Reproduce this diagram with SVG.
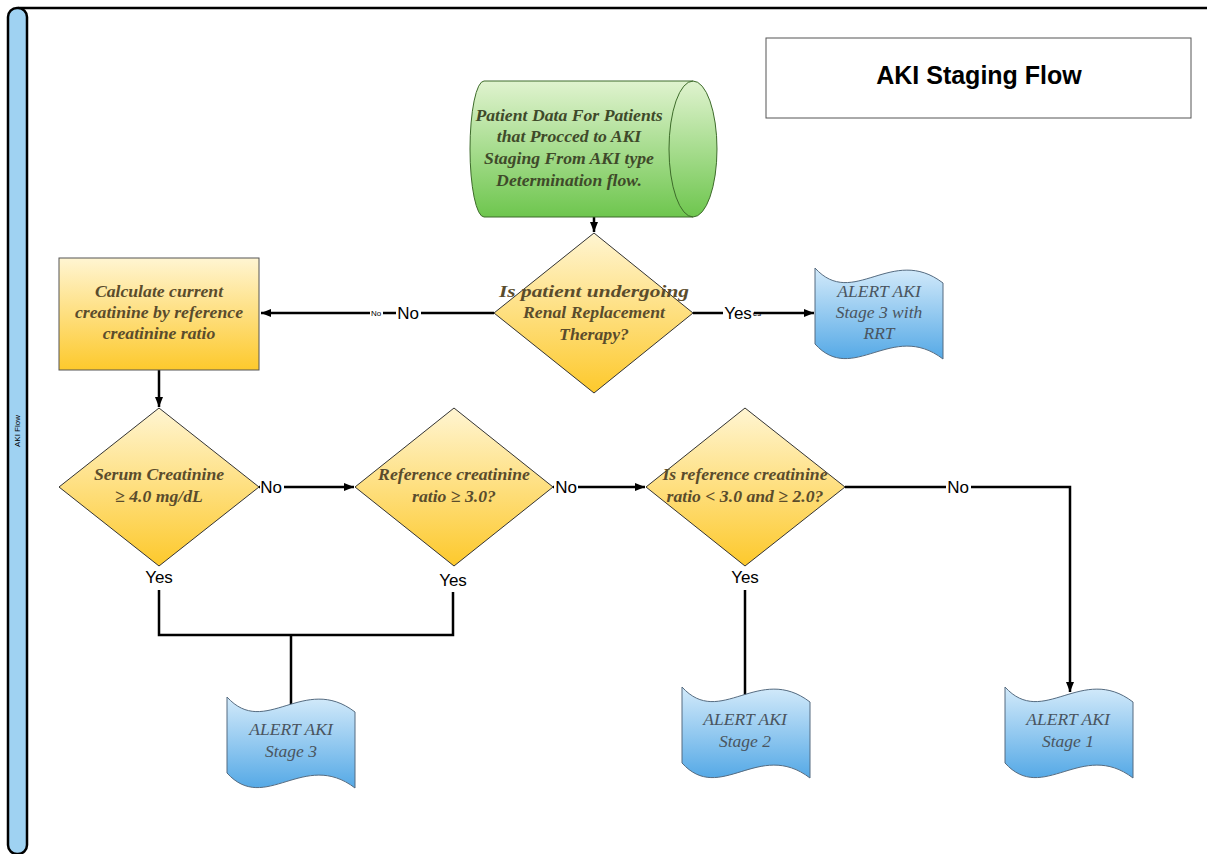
<svg xmlns="http://www.w3.org/2000/svg" width="1207" height="854" viewBox="0 0 1207 854">
<defs>
<linearGradient id="gY" x1="0" y1="0" x2="0" y2="1"><stop offset="0" stop-color="#fff5d2"/><stop offset="1" stop-color="#fdc92c"/></linearGradient>
<linearGradient id="gB" x1="0" y1="0" x2="0" y2="1"><stop offset="0" stop-color="#d3eafa"/><stop offset="1" stop-color="#55a9e6"/></linearGradient>
<linearGradient id="gG" x1="0" y1="0" x2="0" y2="1"><stop offset="0" stop-color="#e0f3cf"/><stop offset="1" stop-color="#6ec64e"/></linearGradient>
<marker id="ar" viewBox="0 0 10 10" refX="10" refY="5" markerWidth="10" markerHeight="10" markerUnits="userSpaceOnUse" orient="auto"><path d="M0,1 L10,5 L0,9 Z" fill="#000"/></marker>
<path id="tape" d="M0,0 C38,42 77,-24 128,15 L128,91 C77,52 38,118 0,76 Z"/>
</defs>
<style>
.dia{fill:url(#gY);stroke:#333;stroke-width:1}
.tp{fill:url(#gB);stroke:#556b80;stroke-width:1}
.qt{font-family:"Liberation Serif",serif;font-style:italic;font-weight:bold;font-size:17.7px;fill:#5a4c2c;text-anchor:middle}
.at{font-family:"Liberation Serif",serif;font-style:italic;font-size:17.5px;fill:#4a5560;text-anchor:middle}
.lb{font-family:"Liberation Sans",sans-serif;font-size:17px;fill:#000;text-anchor:middle}
.sm{font-family:"Liberation Sans",sans-serif;font-size:8px;fill:#000;text-anchor:middle}
.cn{fill:none;stroke:#000;stroke-width:2.5}
</style>
<rect width="1207" height="854" fill="#fff"/>
<g id="frame">
<path d="M18,8 L1207,8" stroke="#000" stroke-width="2.5" fill="none"/>
<rect x="8" y="8" width="19" height="846" rx="9" ry="9" fill="#9fd2f2" stroke="#000" stroke-width="2.5"/>
<text x="0" y="0" transform="translate(20,431) rotate(-90)" font-family="Liberation Sans,sans-serif" font-size="8" text-anchor="middle">AKI Flow</text>
</g>
<g id="title">
<rect x="766" y="38" width="425" height="80" fill="#fff" stroke="#555" stroke-width="1"/>
<text x="979" y="84" font-family="Liberation Sans,sans-serif" font-weight="bold" font-size="25" text-anchor="middle">AKI Staging Flow</text>
</g>
<g id="connectors">
<path class="cn" d="M594,217 L594,232" marker-end="url(#ar)"/>
<path class="cn" d="M494,313 L261,313" marker-end="url(#ar)"/>
<path class="cn" d="M693,313 L814,313" marker-end="url(#ar)"/>
<path class="cn" d="M159,370 L159,407" marker-end="url(#ar)"/>
<path class="cn" d="M259,487 L354,487" marker-end="url(#ar)"/>
<path class="cn" d="M553,487 L645,487" marker-end="url(#ar)"/>
<path class="cn" d="M845,487 L1070,487 L1070,692" marker-end="url(#ar)"/>
<path class="cn" d="M159,590 L159,635 L453,635 L453,592"/>
<path class="cn" d="M291,635 L291,705"/>
<path class="cn" d="M745,590 L745,695"/>
<rect x="396" y="303" width="25" height="20" fill="#fff"/>
<text class="lb" x="408" y="319">No</text>
<rect x="370" y="308" width="13" height="10" fill="#fff"/>
<text class="sm" x="376" y="316">No</text>
<rect x="723" y="303" width="31" height="20" fill="#fff"/>
<text class="lb" x="738" y="319">Yes</text>
<text class="sm" x="757" y="316" fill="#666">es</text>
<rect x="260" y="477" width="24" height="20" fill="#fff"/>
<text class="lb" x="271" y="493">No</text>
<rect x="554" y="477" width="24" height="20" fill="#fff"/>
<text class="lb" x="566" y="493">No</text>
<rect x="946" y="477" width="25" height="20" fill="#fff"/>
<text class="lb" x="958" y="493">No</text>
<text class="lb" x="159" y="583">Yes</text>
<text class="lb" x="453" y="586">Yes</text>
<text class="lb" x="745" y="583">Yes</text>
</g>
<g id="start">
<path d="M693,81 L484,81 A14,68 0 0 0 484,217 L693,217 A24,68 0 0 0 693,81 Z" fill="url(#gG)" stroke="#3d6b2a" stroke-width="1"/>
<path d="M693,81 A24,68 0 0 0 693,217" fill="none" stroke="#3d6b2a" stroke-width="1"/>
<text class="qt" style="fill:#3f4a2a"><tspan x="569" y="121">Patient Data For Patients</tspan><tspan x="569" y="142">that Procced to AKI</tspan><tspan x="569" y="164">Staging From AKI type</tspan><tspan x="569" y="186">Determination flow.</tspan></text>
</g>
<g id="rrt-decision">
<polygon class="dia" points="594,233 693,313 594,393 494,313"/>
<text class="qt"><tspan x="594" y="297" textLength="190" lengthAdjust="spacingAndGlyphs">Is patient undergoing</tspan><tspan x="594" y="318">Renal Replacement</tspan><tspan x="594" y="340">Therapy?</tspan></text>
</g>
<g id="alert-rrt">
<use href="#tape" class="tp" transform="translate(815,268)"/>
<text class="at"><tspan x="879" y="297">ALERT AKI</tspan><tspan x="879" y="318">Stage 3 with</tspan><tspan x="879" y="339">RRT</tspan></text>
</g>
<g id="calc">
<rect x="59" y="258" width="200" height="112" fill="url(#gY)" stroke="#555" stroke-width="1"/>
<text class="qt"><tspan x="159" y="297">Calculate current</tspan><tspan x="159" y="318">creatinine by reference</tspan><tspan x="159" y="339">creatinine ratio</tspan></text>
</g>
<g id="serum">
<polygon class="dia" points="159,408 259,487 159,566 59,487"/>
<text class="qt"><tspan x="159" y="480">Serum Creatinine</tspan><tspan x="159" y="502">≥ 4.0 mg/dL</tspan></text>
</g>
<g id="ratio3">
<polygon class="dia" points="454,408 553,487 454,566 355,487"/>
<text class="qt"><tspan x="454" y="480">Reference creatinine</tspan><tspan x="454" y="502">ratio ≥ 3.0?</tspan></text>
</g>
<g id="ratio2">
<polygon class="dia" points="745,408 845,487 745,566 646,487"/>
<text class="qt"><tspan x="745" y="480">Is reference creatinine</tspan><tspan x="745" y="502">ratio &lt; 3.0 and ≥ 2.0?</tspan></text>
</g>
<g id="stage3">
<use href="#tape" class="tp" transform="translate(227,697)"/>
<text class="at"><tspan x="291" y="735">ALERT AKI</tspan><tspan x="291" y="757">Stage 3</tspan></text>
</g>
<g id="stage2">
<use href="#tape" class="tp" transform="translate(682,687)"/>
<text class="at"><tspan x="745" y="725">ALERT AKI</tspan><tspan x="745" y="747">Stage 2</tspan></text>
</g>
<g id="stage1">
<use href="#tape" class="tp" transform="translate(1005,687)"/>
<text class="at"><tspan x="1068" y="725">ALERT AKI</tspan><tspan x="1068" y="747">Stage 1</tspan></text>
</g>
</svg>
